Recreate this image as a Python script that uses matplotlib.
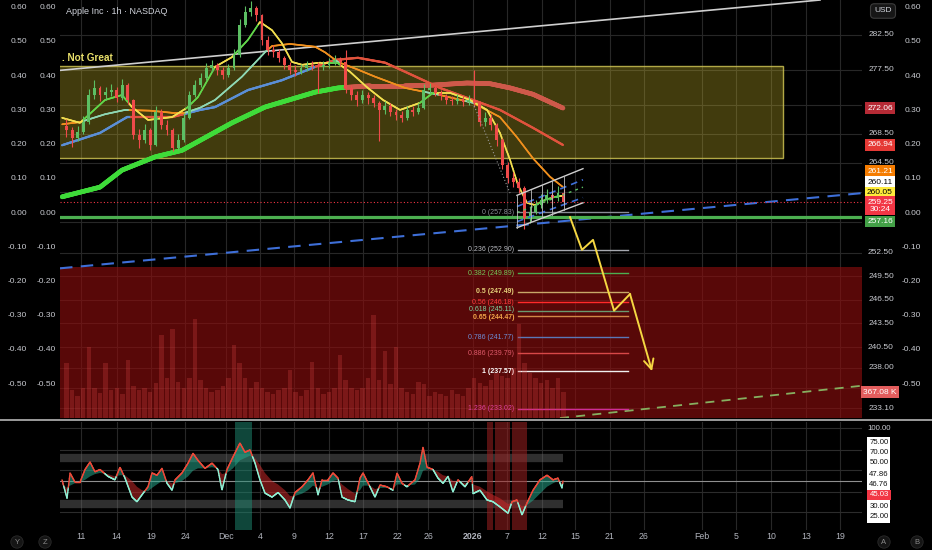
import numpy as np
import matplotlib
matplotlib.use("Agg")
import matplotlib.pyplot as plt
import matplotlib.transforms as mtransforms
from matplotlib.collections import LineCollection
from matplotlib.patches import Rectangle
from matplotlib.lines import Line2D
from matplotlib.ticker import NullLocator, NullFormatter, FixedLocator
from matplotlib import font_manager as fm

_names = {f.name for f in fm.fontManager.ttflist}
NARROW = 'Liberation Sans Narrow' if 'Liberation Sans Narrow' in _names else 'Liberation Sans'
plt.rcParams['font.family'] = ['Liberation Sans', 'DejaVu Sans']

# ---------------------------------------------------------------- data
TITLE = "Apple Inc · 1h · NASDAQ"
X_TICK_LABELS = ["11", "14", "19", "24", "Dec", "4", "9", "12", "17", "22", "26", "2026",
                 "7", "12", "15", "21", "26", "Feb", "5", "10", "13", "19"]
X_TICK_DAYS = [0, 3.18, 6.27, 9.31, 12.98, 16.03, 19.07, 22.20, 25.25, 28.29, 31.07, 35.09,
               38.14, 41.27, 44.23, 47.36, 50.40, 55.60, 58.64, 61.77, 64.91, 67.95]
X_RANGE = [-1.88, 69.92]
PRICE_RANGE = [231.91, 287.64]
PRICE_GRID = [282.5, 277.5, 272.5, 268.5, 264.5, 260.5, 256.5, 252.5, 249.5, 246.5, 243.5,
              240.5, 238.0, 235.5, 233.1]
PRICE_LABELS = [282.5, 277.5, 268.5, 264.5, 252.5, 249.5, 246.5, 243.5, 240.5, 238.0, 233.1]
OSC_TICKS = [0.6, 0.5, 0.4, 0.3, 0.2, 0.1, 0.0, -0.1, -0.2, -0.3, -0.4, -0.5]
OSC_RANGE = [-0.5994, 0.6228]

# hourly candles aggregated to half-day steps
CANDLE_START, CANDLE_STEP = -1.3, 0.5
FIRST_OPEN = 269.6
CLOSE = [269.0, 267.9, 268.7, 270.1, 273.9, 274.9, 273.9, 274.3, 274.6, 273.5,
         275.3, 273.2, 268.3, 267.6, 269.0, 266.9, 271.5, 269.7, 269.0, 266.5,
         267.6, 270.7, 273.9, 275.3, 276.3, 277.7, 278.2, 277.5, 276.7, 277.7,
         279.6, 284.0, 285.9, 286.5, 285.4, 281.8, 280.3, 280.0, 279.2, 278.2,
         277.5, 277.2, 277.7, 278.2, 278.0, 277.9, 278.2, 278.5, 278.9, 278.6,
         274.9, 273.9, 273.2, 273.9, 273.5, 272.8, 271.8, 272.4, 271.5, 271.1,
         270.7, 271.8, 271.5, 272.1, 274.6, 274.9, 274.2, 273.8, 273.2, 273.1,
         273.3, 272.9, 273.2, 272.8, 270.1, 270.7, 269.7, 267.6, 264.2, 262.4,
         261.9, 261.1, 257.1, 257.9, 258.8, 259.5, 260.1, 259.7, 260.4, 259.25]
HIGH = [270.6, 269.4, 269.6, 270.9, 274.8, 276.0, 275.2, 275.0, 275.4, 275.0,
        276.1, 275.6, 273.4, 269.2, 269.8, 269.3, 272.4, 271.9, 270.4, 269.3,
        268.4, 271.4, 274.5, 276.0, 277.0, 278.4, 278.9, 278.5, 277.9, 278.3,
        280.4, 284.8, 286.8, 287.5, 286.8, 285.6, 282.3, 281.1, 280.4, 279.5,
        278.6, 278.1, 278.3, 278.8, 278.7, 278.6, 278.8, 279.1, 279.6, 279.3,
        280.3, 275.3, 274.4, 274.6, 274.3, 273.9, 273.0, 273.1, 272.8, 272.0,
        271.6, 272.4, 272.3, 272.8, 275.5, 275.6, 275.2, 274.6, 274.1, 273.8,
        274.0, 273.7, 273.9, 277.5, 273.0, 271.5, 271.2, 270.0, 267.9, 264.6,
        263.2, 262.5, 261.4, 258.6, 259.5, 260.3, 260.9, 260.6, 261.3, 261.0]
LOW = [268.0, 266.6, 267.5, 268.4, 269.9, 273.4, 273.0, 273.2, 273.8, 272.9,
       273.2, 272.6, 267.7, 266.5, 267.2, 266.3, 266.8, 269.1, 268.3, 266.1,
       266.3, 267.4, 270.5, 273.6, 275.0, 276.0, 277.2, 276.8, 276.2, 276.5,
       277.4, 279.3, 283.6, 285.3, 284.6, 281.0, 279.6, 279.3, 278.6, 277.6,
       276.9, 276.6, 276.9, 277.3, 277.4, 274.2, 277.5, 277.8, 278.2, 278.0,
       274.2, 273.2, 272.4, 272.8, 272.7, 272.2, 267.5, 271.3, 270.9, 270.4,
       270.1, 270.4, 270.9, 271.2, 271.9, 274.1, 273.7, 273.2, 272.6, 272.5,
       272.7, 272.3, 272.5, 272.2, 269.5, 269.6, 269.0, 266.8, 263.6, 261.8,
       261.2, 260.4, 255.6, 256.4, 257.6, 258.4, 259.1, 258.9, 259.4, 258.8]
VOLUME_K = [770, 392, 308, 420, 1008, 420, 350, 770, 392, 420,
            336, 812, 448, 392, 420, 364, 490, 1176, 560, 1260,
            504, 420, 560, 1400, 532, 420, 364, 392, 448, 560,
            1036, 770, 560, 420, 504, 420, 364, 336, 392, 420,
            672, 364, 308, 392, 784, 420, 336, 364, 420, 896,
            532, 420, 392, 420, 560, 1456, 532, 952, 476, 1008,
            420, 364, 336, 504, 476, 308, 364, 336, 308, 392,
            336, 308, 420, 560, 490, 448, 532, 630, 588, 560,
            700, 1330, 770, 630, 560, 490, 532, 420, 560, 367.08]
VOL_RANGE = [0, 5902]

MA20_DAYS = [-1.70, -0.09, 2.15, 3.67, 4.57, 6.00, 8.15, 9.49, 10.47, 12.00, 13.52, 14.95,
             16.02, 17.10, 17.99, 18.89, 19.79, 21.40, 22.92, 24.08, 25.60, 27.04, 28.56,
             30.35, 31.51, 33.03, 34.83, 36.35, 37.51, 38.41, 39.12, 39.93, 40.64, 41.54,
             42.43, 43.15]
MA20_VALS = [270.7, 270.0, 273.2, 273.9, 272.2, 270.4, 270.8, 272.1, 273.6, 277.9, 279.3, 281.8,
             284.4, 283.2, 281.3, 278.6, 278.2, 278.5, 278.5, 277.2, 275.0, 273.2, 271.8,
             272.8, 274.2, 274.2, 273.2, 271.8, 268.6, 264.9, 261.5, 259.1, 258.8, 259.5,
             259.9, 260.05]
MA50_DAYS = [-1.70, -0.09, 2.15, 3.94, 6.18, 8.15, 9.31, 10.65, 12.00, 14.41, 16.47, 17.10,
             18.71, 20.95, 21.84, 23.01, 24.80, 26.32, 29.01, 32.14, 35.09, 37.51, 39.03,
             40.47, 41.99, 43.15]
MA50_VALS = [269.8, 270.1, 271.2, 271.8, 271.7, 271.4, 271.4, 272.1, 273.2, 276.5, 280.0, 280.9,
             281.2, 280.8, 280.0, 278.6, 277.5, 276.5, 274.9, 273.9, 272.8, 270.8, 268.0,
             265.1, 262.6, 261.21]
MA100_DAYS = [-1.70, 1.70, 4.12, 6.18, 8.15, 10.65, 12.00, 14.95, 18.00, 20.95, 22.74, 24.80,
              27.22, 29.01, 32.14, 35.09, 37.51, 40.47, 43.15]
MA100_VALS = [266.9, 268.6, 270.8, 270.8, 270.8, 271.8, 272.2, 274.6, 276.0, 277.9, 278.9, 279.2,
              278.5, 277.2, 274.9, 273.2, 271.8, 269.3, 266.94]
MA200_DAYS = [-1.70, 1.70, 3.67, 6.62, 9.04, 13.52, 16.47, 20.95, 23.01, 25.87, 29.01, 31.51,
              34.56, 36.62, 38.41, 40.47, 43.15]
MA200_VALS = [259.9, 261.2, 263.5, 265.3, 266.2, 270.0, 272.2, 274.3, 274.9, 275.2, 275.2, 275.3,
              275.6, 275.5, 274.9, 274.0, 272.06]

YBOX_DAYS = [-3.0, 62.85]
YBOX_PRICES = [265.2, 278.0]
RED_ZONE_TOP = 250.7
SUPPORT = 257.16
LAST_PRICE = 259.25
TREND_DAYS = [-1.88, 66.16]
TREND_PRICES = [277.4, 287.64]
BLUE_DAYS = [-1.88, 69.92]
BLUE_PRICES = [250.5, 260.4]
GREEN_DASH_DAYS = [42.88, 69.92]
GREEN_DASH_PRICES = [231.9, 235.8]
ZIGZAG_DAYS = [35.09, 38.41]
ZIGZAG_PRICES = [272.8, 260.4]

FIB_LEVELS = ["0", "0.236", "0.382", "0.5", "0.56", "0.618", "0.65", "0.786", "0.886", "1", "1.236"]
FIB_PRICES = [257.83, 252.90, 249.89, 247.49, 246.18, 245.11, 244.47, 241.77, 239.79, 237.57, 233.02]
FIB_DAYS = [39.12, 48.97]

PROJ_DAYS = [43.78, 44.85, 45.84, 47.72, 49.15, 51.12]
PROJ_PRICES = [257.2, 252.9, 254.2, 245.1, 247.2, 237.57]

CH_DAYS = [39.03, 44.94]
CH_UPPER = [260.1, 263.7]
CH_LOWER = [255.8, 259.1]
CH_IN_UP = [258.6, 262.2]
CH_IN_DN = [256.6, 259.8]
CH_MID = [257.8, 261.2]
CH_DIVIDERS = [39.03, 40.28, 41.27, 42.16, 43.24]

BADGE_TEXT = ["272.06", "266.94", "261.21", "260.11", "260.05", "259.25\n30:24", "257.16"]
BADGE_VALUE = [272.06, 266.94, 261.21, 260.11, 260.05, 259.25, 257.16]
VOL_BADGE = 367.08

RSI_DAY = [-1.70, -1.25, -0.98, -0.54, -0.09, 0.36, 0.81, 1.25, 1.70, 2.42,
           3.04, 3.49, 3.94, 4.57, 5.01, 5.46, 6.00, 6.36, 6.80, 7.25,
           7.70, 8.15, 8.42, 9.04, 9.58, 10.03, 10.47, 11.10, 11.73, 12.26,
           12.62, 13.07, 13.61, 14.23, 14.68, 15.13, 15.58, 16.02, 16.47, 17.10,
           17.64, 18.26, 18.71, 19.16, 19.79, 20.32, 20.77, 21.22, 21.58, 22.11,
           22.56, 23.01, 23.37, 23.90, 24.53, 24.98, 25.25, 25.87, 26.32, 26.77,
           27.39, 27.93, 28.29, 28.74, 29.18, 29.90, 30.35, 30.62, 30.98, 31.51,
           31.96, 32.41, 32.86, 33.30, 33.75, 34.38, 35.00, 35.09, 35.72, 36.35,
           36.88, 37.51, 38.23, 38.59, 39.03, 39.48, 39.93, 40.47, 41.09, 41.72,
           42.26, 42.70, 43.06, 43.15]
RSI_VAL = [51, 35, 57, 49, 49, 60, 66.5, 58, 60, 54,
           51, 62, 52.5, 36, 32, 38, 45, 57, 55, 61,
           48, 42, 51, 57, 65.5, 74, 68, 61, 65.5, 60,
           42, 60, 71, 83, 75, 77, 65.5, 51, 39.5, 36,
           40, 33.5, 26.5, 40, 45, 51, 57, 38, 51, 51,
           57, 52.5, 36, 33.5, 32, 52.5, 57, 45, 36, 46.5,
           45, 42, 57, 48, 45, 51, 65.5, 79.5, 62, 60,
           52.5, 48, 54, 40.5, 51, 45, 54, 39, 42, 33.5,
           32, 27.5, 22, 32, 33.5, 20.5, 31, 42, 51, 55,
           51, 52.5, 44, 50]
RSI_SIG = [47, 44, 46, 48, 49, 51, 54, 56, 57, 56,
           54, 55, 55, 50, 45, 42, 41, 44, 47, 50,
           50, 48, 48, 50, 54, 59, 61, 61, 62, 61,
           56, 57, 61, 68, 70, 72, 70, 64, 57, 50,
           47, 42, 37, 37, 39, 42, 46, 44, 45, 47,
           50, 51, 47, 43, 39, 42, 46, 46, 43, 44,
           44, 43, 47, 47, 46, 47, 52, 59, 60, 60,
           58, 55, 54, 50, 50, 48, 50, 47, 45, 41,
           38, 35, 30, 31, 32, 28, 29, 33, 39, 45,
           48, 50, 48, 47.86]
RSI_RANGE = [7.4, 101.3]
RSI_GRID = [96.1, 77.0, 59.6, 40.4, 23.0]
RSI_BANDS = [70, 30]
RSI_TEAL_ZONES = [(13.8, 15.3)]
RSI_RED_ZONES = [(36.35, 36.9), (37.06, 38.4), (38.6, 39.9)]
RSI_AXIS_LABELS = ["75.00", "70.00", "50.00", "47.86", "46.76", "45.03", "30.00", "25.00"]

# ---------------------------------------------------------------- style
W, H = 932, 550
BG = "#000000"
GRID = "#272727"
TXT = "#c9cbd1"
UP, DN = "#5cbf63", "#ef4a4a"

fig = plt.figure(figsize=(W / 100, H / 100), dpi=100, facecolor=BG)


def rect_px(x0, y0, x1, y1):
    return [x0 / W, 1 - y1 / H, (x1 - x0) / W, (y1 - y0) / H]


def fy(py):
    return 1 - py / H


ax = fig.add_axes(rect_px(60, 0, 862, 418))
axr = fig.add_axes(rect_px(60, 422, 862, 530))
for a in (ax, axr):
    a.set_facecolor(BG)
    for s in a.spines.values():
        s.set_visible(False)
    a.set_xlim(*X_RANGE)
    a.set_axisbelow(True)

ax.set_yscale('log')
ax.set_ylim(*PRICE_RANGE)
ax.yaxis.set_major_locator(FixedLocator(PRICE_GRID))
ax.yaxis.set_minor_locator(NullLocator())
ax.yaxis.set_minor_formatter(NullFormatter())
ax.set_xticks(X_TICK_DAYS)
ax.tick_params(which='both', length=0, labelleft=False, labelbottom=False)
ax.grid(True, which='major', color=GRID, lw=0.8)

axv = ax.twinx()
axv.set_ylim(*VOL_RANGE)
axv.axis('off')
axo = ax.twinx()
axo.set_ylim(*OSC_RANGE)
axo.axis('off')


def colored_line(axis, xd, yd, ref_x, ref_y, up, dn, lw, z, alpha=1.0, logy=True, n=700):
    xs = np.linspace(xd[0], xd[-1], n)
    if logy:
        ys = np.exp(np.interp(xs, xd, np.log(yd)))
    else:
        ys = np.interp(xs, xd, yd)
    rv = np.interp(xs, ref_x, ref_y)
    pts = np.column_stack([xs, ys])
    segs = np.stack([pts[:-1], pts[1:]], axis=1)
    above = (rv[:-1] + rv[1:]) >= (ys[:-1] + ys[1:])
    cols = [up if m else dn for m in above]
    lc = LineCollection(segs, colors=cols, linewidths=lw, zorder=z, alpha=alpha, capstyle='round')
    axis.add_collection(lc)


days = CANDLE_START + CANDLE_STEP * np.arange(len(CLOSE))
close = np.array(CLOSE)
opn = np.concatenate([[FIRST_OPEN], close[:-1]])
high = np.array(HIGH)
low = np.array(LOW)

# zones
ax.add_patch(Rectangle((YBOX_DAYS[0], YBOX_PRICES[0]), YBOX_DAYS[1] - YBOX_DAYS[0],
                       YBOX_PRICES[1] - YBOX_PRICES[0], fc=(0.80, 0.72, 0.16, 0.32),
                       ec=(0.80, 0.76, 0.32, 0.85), lw=1.0, zorder=1))
ax.add_patch(Rectangle((X_RANGE[0], PRICE_RANGE[0]), X_RANGE[1] - X_RANGE[0],
                       RED_ZONE_TOP - PRICE_RANGE[0], fc=(0.56, 0.05, 0.05, 0.62),
                       ec='none', zorder=1))
ax.text(X_RANGE[0] + 0.15, YBOX_PRICES[1], ". Not Great", color="#e8df6a", fontsize=7.2,
        fontweight='bold', va='bottom', ha='left', zorder=8,
        transform=mtransforms.offset_copy(ax.transData, fig=fig, x=0, y=3, units='dots'))

# trend lines
ax.plot(TREND_DAYS, TREND_PRICES, color="#cfcfcf", lw=1.2, zorder=2)
ax.plot(BLUE_DAYS, BLUE_PRICES, color="#3e6fd8", lw=1.5, dashes=(6, 4), zorder=2)
ax.plot(GREEN_DASH_DAYS, GREEN_DASH_PRICES, color="#86b060", lw=1.3, dashes=(5, 4), zorder=3)
ax.axhline(SUPPORT, color="#4caf50", lw=2.3, zorder=4)
ax.axhline(LAST_PRICE, color="#f23645", lw=0.8, ls=(0, (1, 2)), zorder=4)

# moving averages (coloured by price above/below)
colored_line(ax, MA200_DAYS, MA200_VALS, days, close, "#3fdc3a", "#cf5a4b", 3.4, 3, alpha=0.95)
colored_line(ax, MA100_DAYS, MA100_VALS, days, close, "#5b8fd6", "#e0533d", 1.6, 3.2)
colored_line(ax, MA50_DAYS, MA50_VALS, days, close, "#8fd8b4", "#f0901e", 1.2, 3.4)
colored_line(ax, MA20_DAYS, MA20_VALS, days, close, "#62d74a", "#f2df4f", 1.2, 3.6)

# candles
ccol = [UP if c >= o else DN for o, c in zip(opn, close)]
ax.vlines(days, low, high, colors=ccol, lw=0.8, zorder=5)
body_lo = np.minimum(opn, close)
body_h = np.maximum(np.abs(close - opn), 0.12)
ax.bar(days, body_h, bottom=body_lo, width=0.26, color=ccol, zorder=5, linewidth=0)
ax.plot(ZIGZAG_DAYS, ZIGZAG_PRICES, color="#9a9a9a", lw=0.8, ls=(0, (1, 2)), zorder=5)

# volume
axv.bar(days, VOLUME_K, width=0.4, color="#d84545", alpha=0.28, linewidth=0, zorder=2)

# fibonacci
fib_line_cols = ["#8a8d96", "#a7a9b0", "#4caf50", "#c8a868", "#ff2a2a", "#6a9a70", "#d08848",
                 "#5a78b8", "#d84848", "#f0f0f0", "#d02c98"]
fib_txt_cols = ["#8a8d96", "#b8bac0", "#74c95a", "#e6d27a", "#ff3b3b", "#7fd4a0", "#f2a64a",
                "#6f8fd8", "#e05a6a", "#ffffff", "#e040b0"]
fib_bold = [False, False, False, True, False, False, True, False, False, True, False]
fib_dy = [0, 0, 0, 0, 0, 1.5, -1.5, 0, 0, 0, 0]
for lvl, p, lc, tc, b, dy in zip(FIB_LEVELS, FIB_PRICES, fib_line_cols, fib_txt_cols, fib_bold, fib_dy):
    ax.plot(FIB_DAYS, [p, p], color=lc, lw=1.0, zorder=4)
    tr = mtransforms.offset_copy(ax.transData, fig=fig, x=0, y=dy, units='dots')
    ax.text(FIB_DAYS[0] - 0.35, p, f"{lvl} ({p:.2f})", color=tc, fontsize=5.0, ha='right',
            va='center', family=NARROW, fontweight='bold' if b else 'normal', zorder=6,
            transform=tr)

# channel / flag
ax.plot(CH_DAYS, CH_UPPER, color="#d0d0d0", lw=1.0, zorder=6)
ax.plot(CH_DAYS, CH_LOWER, color="#d0d0d0", lw=1.0, zorder=6)
ax.plot(CH_DAYS, CH_IN_UP, color="#3e6fd8", lw=1.2, dashes=(4, 3), zorder=6)
ax.plot(CH_DAYS, CH_IN_DN, color="#3e6fd8", lw=1.2, dashes=(4, 3), zorder=6)
ax.plot(CH_DAYS, CH_MID, color="#5cbf63", lw=1.0, dashes=(2, 3), zorder=6)
for dd in CH_DIVIDERS:
    top = np.exp(np.interp(dd, CH_DAYS, np.log(CH_UPPER)))
    bot = np.exp(np.interp(dd, CH_DAYS, np.log(CH_LOWER)))
    ax.plot([dd, dd], [bot, top], color="#bdbdbd", lw=0.6, zorder=6)

# projection arrow
ax.plot(PROJ_DAYS[:-1], PROJ_PRICES[:-1], color="#f5d742", lw=1.4, zorder=7)
ax.annotate("", xy=(PROJ_DAYS[-1], PROJ_PRICES[-1]), xytext=(PROJ_DAYS[-2], PROJ_PRICES[-2]),
            arrowprops=dict(arrowstyle="->,head_length=0.7,head_width=0.35", color="#f5d742",
                            lw=1.4, shrinkA=0, shrinkB=0), zorder=7)

ax.text((66 - 60) / 802, 1 - 11 / 418, TITLE, transform=ax.transAxes, color="#d1d4dc",
        fontsize=6.5, va='center', ha='left', zorder=9)

# ---------------------------------------------------------------- axis labels (main)
bt_price = mtransforms.blended_transform_factory(fig.transFigure, ax.transData)
bt_osc = mtransforms.blended_transform_factory(fig.transFigure, axo.transData)
bt_vol = mtransforms.blended_transform_factory(fig.transFigure, axv.transData)
for p in PRICE_LABELS:
    fig.text(881 / W, p, f"{p:.2f}", transform=bt_price, color=TXT, fontsize=6,
             ha='center', va='center', family=NARROW)
for v in OSC_TICKS:
    s = f"{v:.2f}"
    for xr in (27, 56):
        fig.text(xr / W, v, s, transform=bt_osc, color=TXT, fontsize=6, ha='right',
                 va='center', family=NARROW)
    fig.text(921 / W, v, s, transform=bt_osc, color=TXT, fontsize=6, ha='right',
             va='center', family=NARROW)

badge_fc = ["#b52a35", "#e53935", "#f57c00", "#ffffff", "#ffeb3b", "#f23645", "#43a047"]
badge_tc = ["white", "white", "white", "black", "black", "white", "white"]
badge_dy = [0, 0, 16, 13, 3, -4, -4]
for txt, val, fc, tc, dy in zip(BADGE_TEXT, BADGE_VALUE, badge_fc, badge_tc, badge_dy):
    tr = mtransforms.offset_copy(bt_price, fig=fig, x=0, y=dy, units='dots')
    fig.text(880 / W, val, txt, transform=tr, color=tc, fontsize=6, ha='center', va='center',
             family=NARROW, linespacing=1.05, zorder=10,
             bbox=dict(boxstyle='square,pad=0.28', fc=fc, ec='none'))
fig.text(880 / W, VOL_BADGE, f"{VOL_BADGE:.2f} K", transform=bt_vol, color="white", fontsize=6,
         ha='center', va='center', family=NARROW, zorder=10,
         bbox=dict(boxstyle='square,pad=0.28', fc="#e35d5d", ec='none'))

fig.text(883 / W, fy(11), "USD", color="#d1d4dc", fontsize=6, ha='center', va='center',
         family=NARROW, bbox=dict(boxstyle='round,pad=0.45', fc="#161616", ec="#3c3c3c", lw=0.8))

fig.add_artist(Line2D([0, 1], [fy(420), fy(420)], color="#a8a8a8", lw=1.3,
                      transform=fig.transFigure))

# ---------------------------------------------------------------- RSI panel
axr.set_ylim(*RSI_RANGE)
axr.set_yticks([])
axr.set_xticks(X_TICK_DAYS)
axr.set_xticklabels(X_TICK_LABELS)
axr.tick_params(axis='x', length=0, pad=1.5, labelsize=6.3, labelcolor="#b2b5be")
for lab in axr.get_xticklabels():
    lab.set_family(NARROW)
    if lab.get_text() in ("2026",):
        lab.set_fontweight('bold')
axr.grid(True, axis='x', color=GRID, lw=0.8)
for g in RSI_GRID:
    axr.axhline(g, color="#2c2c2c", lw=0.8, zorder=0.6)
axr.axhline(50, color="#8f8f8f", lw=0.8, zorder=0.7)
for b in RSI_BANDS:
    axr.plot([X_RANGE[0], RSI_DAY[-1]], [b, b], color="#6a6a6a", lw=6, alpha=0.45,
             solid_capstyle='butt', zorder=0.8)
for a0, a1 in RSI_TEAL_ZONES:
    axr.axvspan(a0, a1, color="#1e8c74", alpha=0.5, lw=0, zorder=0.9)
for a0, a1 in RSI_RED_ZONES:
    axr.axvspan(a0, a1, color="#9c2020", alpha=0.55, lw=0, zorder=0.9)

rd = np.array(RSI_DAY)
rv = np.array(RSI_VAL, dtype=float)
rs = np.array(RSI_SIG, dtype=float)
axr.fill_between(rd, rv, rs, where=rv >= rs, interpolate=True, color="#26a68a", alpha=0.55,
                 lw=0, zorder=2)
axr.fill_between(rd, rv, rs, where=rv < rs, interpolate=True, color="#c62828", alpha=0.55,
                 lw=0, zorder=2)
colored_line(axr, RSI_DAY, RSI_VAL, RSI_DAY, RSI_SIG, "#8ff0d4", "#ee4a3a", 1.0, 3,
             logy=False, n=1500)

fig.text(879 / W, fy(428), "100.00", color=TXT, fontsize=5.6, ha='center', va='center',
         family=NARROW)
fig.add_artist(Rectangle((867 / W, fy(523)), 23 / W, 86 / H, transform=fig.transFigure,
                         fc="white", ec='none'))
rsi_label_py = [443, 453, 463, 474, 485, 495, 506, 517]
for s, py in zip(RSI_AXIS_LABELS, rsi_label_py):
    if s == "45.03":
        fig.text(879 / W, fy(py), s, color="white", fontsize=5.6, ha='center', va='center',
                 family=NARROW, zorder=10,
                 bbox=dict(boxstyle='square,pad=0.25', fc="#f23645", ec='none'))
    else:
        fig.text(879 / W, fy(py), s, color="#111111", fontsize=5.6, ha='center', va='center',
                 family=NARROW, zorder=10)

for s, px in (("Y", 17), ("Z", 45), ("A", 884), ("B", 917)):
    fig.text(px / W, fy(542), s, color="#8a8a8a", fontsize=5.5, ha='center', va='center',
             bbox=dict(boxstyle='circle,pad=0.35', fc="#151515", ec="#2a2a2a", lw=0.6))

fig.savefig("out.png", dpi=100, facecolor=BG)
